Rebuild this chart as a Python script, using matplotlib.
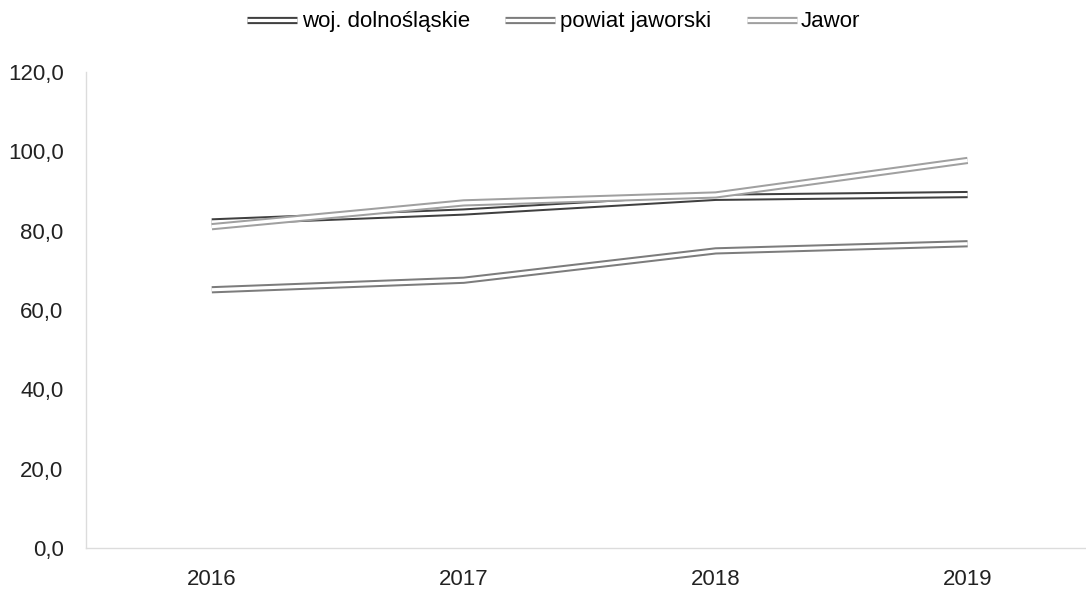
import matplotlib
matplotlib.use("Agg")
import matplotlib.pyplot as plt
import matplotlib.patheffects as pe

plt.rcParams['font.family'] = ['Liberation Sans', 'DejaVu Sans']

# data
years = ['2016', '2017', '2018', '2019']
woj = [82.2, 84.7, 88.4, 89.1]
powiat = [65.1, 67.5, 74.9, 76.7]
jawor = [81.0, 87.0, 89.0, 97.7]

series = [
    ('woj. dolnośląskie', woj, '#404040'),
    ('powiat jaworski', powiat, '#7c7c7c'),
    ('Jawor', jawor, '#a0a0a0'),
]

fig = plt.figure(figsize=(10.86, 5.93), dpi=100)
ax = fig.add_axes([0.079, 0.0759, 0.928, 0.8027])

x = range(len(years))
for label, vals, col in series:
    ax.plot(x, vals, color='white', lw=2.3, label=label,
            solid_capstyle='butt', solid_joinstyle='miter',
            path_effects=[pe.Stroke(linewidth=5.2, foreground=col, capstyle='butt'),
                          pe.Normal()])

ax.set_xlim(-0.5, 3.5)
ax.set_ylim(0, 120)
ax.set_xticks(list(x))
ax.set_xticklabels(years)
ax.set_yticks(range(0, 121, 20))
ax.set_yticklabels([f'{v},0' for v in range(0, 121, 20)])
ax.tick_params(length=0, labelsize=16, colors='#222222')
ax.tick_params(axis='y', pad=16)
ax.tick_params(axis='x', pad=15)

for s in ['top', 'right']:
    ax.spines[s].set_visible(False)
for s in ['left', 'bottom']:
    ax.spines[s].set_color('#dcdcdc')
    ax.spines[s].set_linewidth(1.0)

fig.legend(loc='center', bbox_to_anchor=(0.510, 0.963), ncol=3, frameon=False,
           fontsize=16, handlelength=2.25, handletextpad=0.2, columnspacing=1.6)

plt.savefig('out.png', dpi=100)
plt.close()
